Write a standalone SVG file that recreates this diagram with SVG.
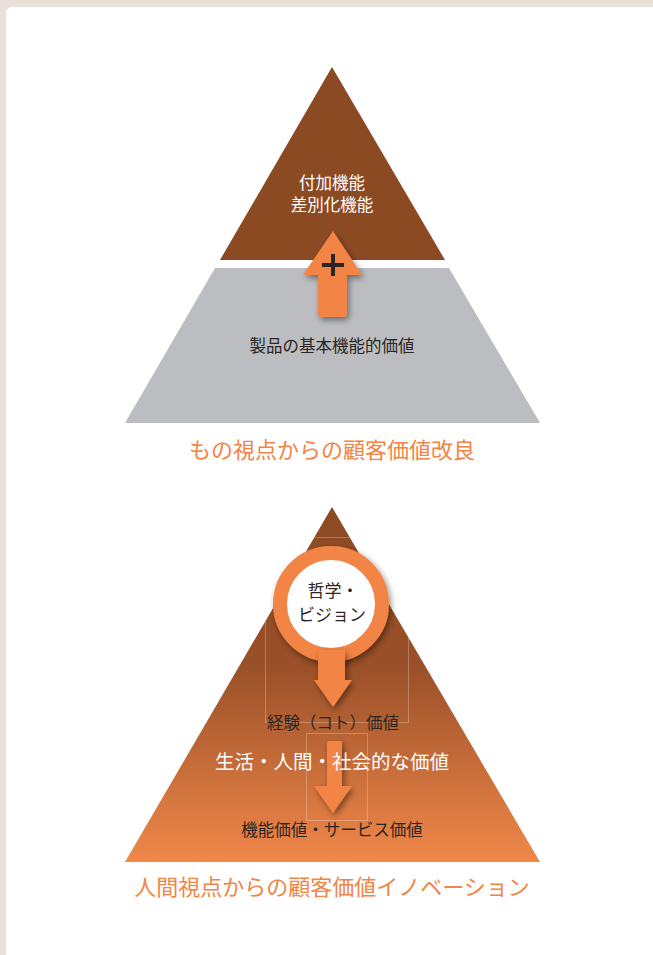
<svg xmlns="http://www.w3.org/2000/svg" width="653" height="955" viewBox="0 0 653 955">
<style>
  .jp { font-family: "Noto Sans CJK JP", "Noto Sans", sans-serif; text-anchor: middle; }
  .dark { fill: #2b2622; font-size: 16.5px; }
  .white { fill: #ffffff; }
  .title { fill: #f28444; font-size: 22px; }
  .arrow { fill: #f28444; }
  .faint { fill: none; stroke: #ffffff; stroke-opacity: 0.25; stroke-width: 1; }
</style>
<defs>
  <linearGradient id="grad" x1="0" y1="507" x2="0" y2="862" gradientUnits="userSpaceOnUse">
    <stop offset="0" stop-color="#8c4a23"/>
    <stop offset="0.45" stop-color="#9a5028"/>
    <stop offset="1" stop-color="#f1884a"/>
  </linearGradient>
  <filter id="shadow" x="-30%" y="-30%" width="160%" height="160%">
    <feGaussianBlur in="SourceAlpha" stdDeviation="3"/>
    <feOffset dx="2" dy="3" result="b"/>
    <feComponentTransfer><feFuncA type="linear" slope="0.45"/></feComponentTransfer>
    <feMerge><feMergeNode/><feMergeNode in="SourceGraphic"/></feMerge>
  </filter>
  <clipPath id="triClip"><polygon points="332,507 540,862 125,862"/></clipPath>
</defs>

<rect x="0" y="0" width="653" height="955" fill="#eae0d8"/>
<rect x="6" y="7" width="660" height="960" rx="6" fill="#ffffff"/>

<g id="top-pyramid">
  <g id="tip-node">
    <polygon points="332,67 445,260 220,260" fill="#8c4a23"/>
    <text class="jp white" x="332" y="189" font-size="16.5">付加機能</text>
    <text class="jp white" x="332" y="211" font-size="16.5">差別化機能</text>
  </g>
  <g id="base-node">
    <polygon points="215,268 449,268 540,423 125,423" fill="#bcbdc0"/>
    <text class="jp dark" x="332" y="352">製品の基本機能的価値</text>
  </g>
  <g id="caption-top">
    <text class="jp title" x="332" y="458">もの視点からの顧客価値改良</text>
  </g>
</g>

<g id="bottom-pyramid">
  <g id="pyramid-node">
    <polygon points="332,507 540,862 125,862" fill="url(#grad)"/>
    <g clip-path="url(#triClip)">
      <rect class="faint" x="265.5" y="537.5" width="143" height="185"/>
      <rect class="faint" x="306.5" y="733.5" width="61" height="87"/>
    </g>
  </g>
  <g id="vision-node" filter="url(#shadow)">
    <circle cx="331" cy="604" r="51" fill="#ffffff" stroke="#f28444" stroke-width="14"/>
  </g>
  <g id="vision-label">
    <text class="jp" x="333" y="597" font-size="17" fill="#2b2622">哲学・</text>
    <text class="jp" x="332" y="621" font-size="17" fill="#2b2622">ビジョン</text>
  </g>
  <g id="experience-node">
    <text class="jp dark" x="333" y="729">経験（コト）価値</text>
  </g>
  <g id="function-node">
    <text class="jp dark" x="332" y="836">機能価値・サービス価値</text>
  </g>
  <g id="caption-bottom">
    <text class="jp title" x="332" y="895">人間視点からの顧客価値イノベーション</text>
  </g>
</g>

<g id="connectors">
  <g filter="url(#shadow)">
    <path class="arrow" d="M333,231 L362,275 L347,275 L347,313 Q347,317 343,317 L322,317 Q318,317 318,313 L318,275 L303,275 Z"/>
  </g>
  <path d="M322,265 H344 M333,254 V276" stroke="#2b2622" stroke-width="4" fill="none"/>
  <g filter="url(#shadow)">
    <path class="arrow" d="M318,650 L345,650 L345,680 L352,680 L333,707 L314,680 L318,680 Z"/>
  </g>
  <g filter="url(#shadow)">
    <path class="arrow" d="M327,743 Q327,741 329,741 L340,741 Q342,741 342,743 L342,786 L352,786 L333,813 L314,786 L327,786 Z"/>
  </g>
</g>

<g id="life-node">
  <text class="jp white" x="332" y="769" font-size="19.5">生活・人間・社会的な価値</text>
</g>
</svg>
